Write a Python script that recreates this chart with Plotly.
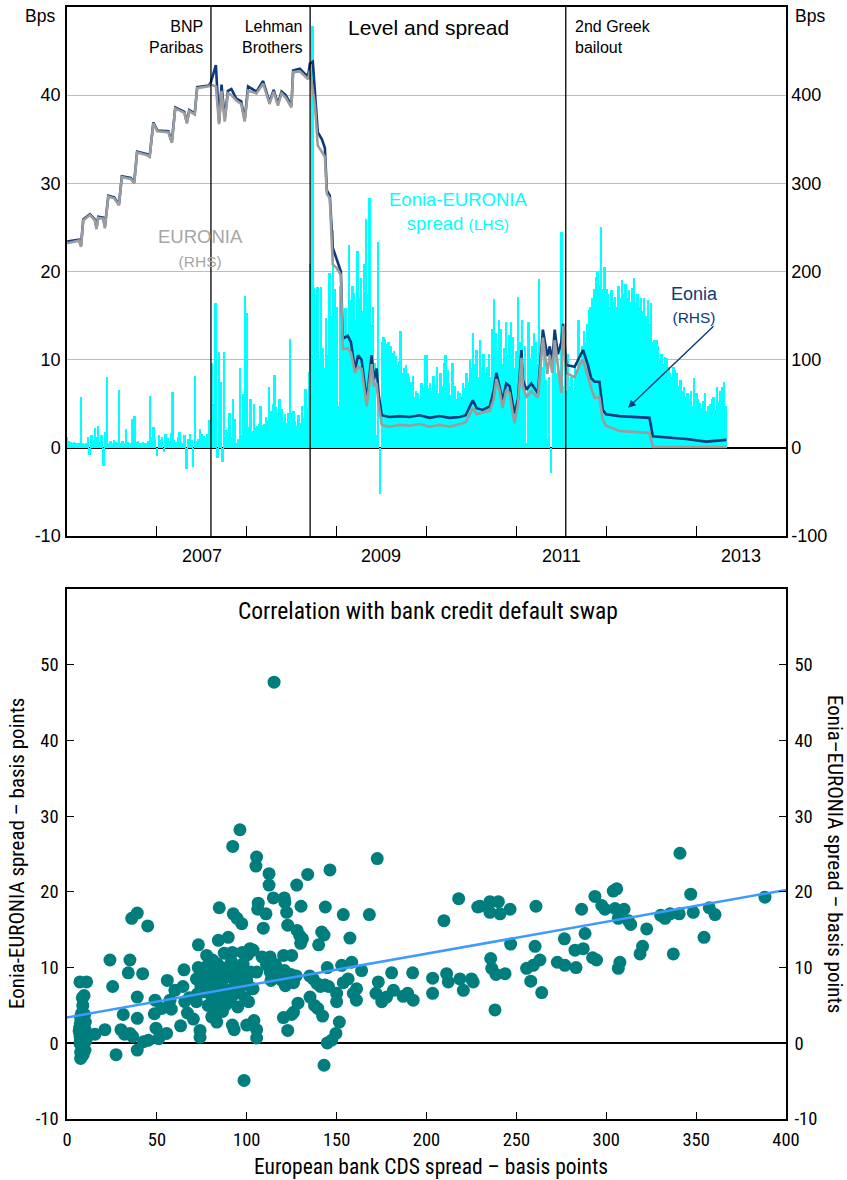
import numpy as np
import pandas as pd
import plotly.graph_objects as go

# ---------------- Top panel: Eonia-EURONIA spread (LHS, weekly bars) ----------------
spread_2006 = [1.2, 0.8, 0.7, 0.6, 0.7, 0.6, 0.5, 0.6, 5.8, 0.5,
               0.4, 0.6, 1.2, -0.8, 1.5, 0.9, 2.2, 1.2, 2.5, 0.7,
               1.4, -2.1, 1.8, 8.0, 0.6, 0.8, 0.5, 0.9, 0.7, 0.6,
               6.6, 0.5, 0.8, 0.6, 2.1, 0.7, 0.5, 0.6, 3.3, 3.6,
               0.7, 0.8, 0.6, 0.5, 0.7, 0.6, 0.5, 0.8, 5.9, 1.2,
               2.4, 1.0]
spread_2007 = [-0.9, 1.4, 0.9, 1.2, -0.5, 1.6, 1.1, 0.8, 1.7, 6.3,
               0.9, 0.7, 1.2, 1.8, 0.8, 0.6, 1.4, -2.4, 1.0, 1.6,
               0.9, -2.2, 8.1, 0.8, 1.0, 2.1, 1.6, 1.3, 1.1, 1.6,
               3.2, 3.0, 9.6, 5.0, 16.4, -1.2, 10.9, 7.5, -1.6, 10.9,
               2.0, 1.8, 3.9, 1.2, 5.5, 3.3, 0.6, 1.0, 9.1, 1.5,
               6.1, 17.2]
spread_2008 = [15.3, 2.4, 5.5, 1.9, 5.0, 2.3, 2.5, 2.7, 4.8, 2.6,
               2.7, 3.5, 3.0, 6.9, 4.2, 5.0, 8.3, 4.6, 3.9, 5.5,
               4.4, 3.0, 3.8, 2.8, 3.9, 12.4, 3.9, 4.2, 3.0, 2.5,
               3.7, 2.8, 4.8, 3.4, 6.7, 4.5, 8.6, 20.9, 47.8, 18.1,
               17.5, 18.2, 10.0, 18.2, 11.3, 9.0, 14.7, 10.5, 19.8, 15.0,
               24.7, 18.0]
spread_2009 = [16.0, 4.7, 18.3, 14.0, 12.7, 15.9, 13.0, 23.0, 16.8, 18.3,
               17.6, 14.5, 22.3, 17.0, 19.3, 15.5, 20.9, 26.0, 17.5, 28.3,
               13.9, 16.0, 9.6, 1.5, 23.3, -5.2, 12.0, 12.6, 12.4, 11.8,
               12.0, 11.5, 10.8, 11.0, 10.4, 9.4, 9.8, 13.2, 8.5, 9.0,
               9.4, 8.5, 8.0, 7.5, 8.1, 5.8, 6.5, 6.2, 5.5, 7.3,
               6.8, 10.5]
spread_2010 = [10.5, 6.8, 7.3, 6.5, 8.1, 7.0, 9.2, 6.2, 8.5, 7.0,
               9.6, 10.5, 8.8, 7.3, 6.0, 9.6, 7.0, 5.5, 6.5, 6.2,
               5.8, 7.3, 6.8, 8.5, 7.5, 10.0, 9.0, 13.0, 9.5, 11.1,
               8.0, 12.2, 9.0, 10.7, 8.5, 9.2, 10.7, 8.0, 13.5, 16.9,
               13.0, 11.0, 14.5, 13.5, 9.5, 11.3, 14.3, 10.5, 12.8, 14.3,
               12.6, 9.0, 11.0]
spread_2011 = [10.0, 17.1, 12.0, 14.5, 9.0, 11.5, 0.5, 14.3, 10.2, 11.5,
               13.0, 12.0, 9.5, 19.2, 8.0, 9.2, 11.0, 7.7, 1.0, 8.0,
               -2.9, 9.5, 11.1, 8.5, 9.0, 7.3, 24.5, 7.0, 10.0, 6.5,
               10.7, 7.0, 8.0, 6.5, 9.5, 8.5, 14.5, 10.0, 11.5, 13.2,
               12.0, 14.0, 15.6, 16.0, 17.0, 18.0, 19.4, 20.1, 18.5, 25.1,
               18.0, 20.5]
spread_2012 = [18.0, 17.4, 16.0, 17.9, 16.5, 17.1, 16.0, 18.4, 17.0, 19.0,
               17.5, 18.6, 17.0, 17.9, 16.5, 18.1, 19.3, 16.5, 17.5, 16.0,
               17.0, 15.5, 17.0, 15.0, 16.8, 14.0, 16.4, 12.0, 12.2, 12.2,
               11.5, 10.0, 10.7, 9.5, 10.3, 10.2, 9.2, 8.5, 8.0, 9.2,
               8.8, 8.5, 7.0, 7.7, 6.5, 6.9, 5.8, 6.2, 5.5, 6.5,
               4.8, 7.9]
spread_2013 = [6.2, 5.5, 5.1, 4.5, 5.3, 6.2, 4.2, 4.7, 5.0, 5.5,
               5.8, 4.3, 6.9, 5.2, 6.5, 6.9, 7.5, 4.7]
spread_by_year = {2006: spread_2006, 2007: spread_2007, 2008: spread_2008,
                  2009: spread_2009, 2010: spread_2010, 2011: spread_2011,
                  2012: spread_2012, 2013: spread_2013}

# ---------------- Top panel: Eonia and EURONIA levels (RHS) ----------------
line_dates = ["2006-01-02", "2006-02-18", "2006-02-27", "2006-03-08", "2006-04-04",
              "2006-04-24", "2006-05-01", "2006-05-08", "2006-05-28", "2006-06-04",
              "2006-06-18", "2006-07-12", "2006-07-31", "2006-08-12", "2006-09-17",
              "2006-10-01", "2006-10-13", "2006-11-23", "2006-12-03", "2006-12-18",
              "2007-01-03", "2007-02-17", "2007-03-03", "2007-03-17", "2007-04-23",
              "2007-05-03", "2007-05-13", "2007-06-04", "2007-06-14", "2007-07-31",
              "2007-08-08", "2007-08-29", "2007-09-11", "2007-09-21", "2007-10-04",
              "2007-10-17", "2007-10-31", "2007-11-20", "2007-12-10", "2007-12-24",
              "2008-01-07", "2008-02-10", "2008-03-08", "2008-03-20", "2008-04-03",
              "2008-04-20", "2008-05-07", "2008-05-22", "2008-06-08", "2008-07-01",
              "2008-07-08", "2008-08-04", "2008-08-25", "2008-09-07", "2008-09-14",
              "2008-09-26", "2008-10-04", "2008-10-16", "2008-11-02", "2008-11-14",
              "2008-11-22", "2008-12-04", "2008-12-16", "2009-01-01", "2009-01-18",
              "2009-01-26", "2009-02-15", "2009-02-28", "2009-03-16", "2009-03-29",
              "2009-04-12", "2009-05-03", "2009-05-23", "2009-06-01", "2009-06-12",
              "2009-06-21", "2009-07-03", "2009-08-04", "2009-09-14", "2009-10-24",
              "2009-12-04", "2010-01-14", "2010-02-23", "2010-04-05", "2010-05-16",
              "2010-06-09", "2010-07-08", "2010-07-24", "2010-08-17", "2010-09-15",
              "2010-10-01", "2010-10-12", "2010-10-25", "2010-11-06", "2010-11-21",
              "2010-12-05", "2010-12-17", "2010-12-25", "2011-01-08", "2011-01-22",
              "2011-01-28", "2011-02-11", "2011-03-03", "2011-03-30", "2011-04-19",
              "2011-05-07", "2011-05-17", "2011-05-27", "2011-06-06", "2011-06-19",
              "2011-07-03", "2011-07-10", "2011-07-23", "2011-08-26", "2011-09-15",
              "2011-09-29", "2011-10-19", "2011-11-01", "2011-11-15", "2011-12-05",
              "2011-12-18", "2012-01-01", "2012-02-24", "2012-05-02", "2012-06-25",
              "2012-07-09", "2012-11-22", "2013-02-11", "2013-05-04"]
eonia = [234, 236, 230, 259, 265, 259, 250, 262, 261, 251,
         286, 284, 276, 308, 306, 301, 336, 333, 331, 369,
         360, 359, 347, 386, 381, 369, 383, 379, 409, 411,
         414, 434, 369, 412, 373, 405, 407, 396, 393, 372,
         410, 404, 416, 405, 392, 406, 390, 404, 400, 388,
         428, 430, 424, 422, 436, 438, 405, 358, 350, 340,
         292, 286, 227, 214, 200, 124, 127, 120, 88, 105,
         100, 54, 105, 78, 90, 60, 37, 35, 36, 35,
         37, 34, 36, 34, 35, 37, 54, 45, 43, 47,
         65, 85, 70, 54, 73, 70, 50, 39, 56, 111,
         77, 66, 73, 62, 134, 104, 115, 96, 134, 106,
         120, 141, 94, 92, 103, 111, 94, 79, 75, 75,
         43, 38, 36, 35, 34, 13, 10, 7, 9]
euronia = [232, 235, 228, 258, 264, 258, 248, 261, 260, 249,
           285, 283, 275, 307, 305, 300, 335, 332, 330, 368,
           359, 358, 346, 385, 380, 368, 382, 378, 408, 410,
           412, 410, 367, 405, 370, 402, 400, 394, 390, 370,
           405, 402, 413, 402, 390, 404, 388, 402, 397, 386,
           426, 427, 421, 418, 428, 405, 390, 343, 336, 330,
           288, 283, 208, 204, 196, 112, 113, 108, 85, 92,
           90, 47, 95, 70, 73, 48, 26, 24, 26, 25,
           27, 24, 26, 24, 27, 29, 45, 38, 40, 42,
           55, 78, 65, 45, 66, 62, 40, 28, 50, 102,
           70, 58, 64, 57, 125, 84, 105, 85, 122, 92,
           62, 138, 85, 80, 94, 100, 80, 68, 57, 57,
           32, 25, 19, 18, 17, 1, 1, 1, 1]

event_dates = ["2007-08-09", "2008-09-15", "2011-07-21"]
event_labels = ["BNP<br>Paribas", "Lehman<br>Brothers", "2nd Greek<br>bailout"]
year_ticks = [f"{y}-01-01" for y in range(2006, 2015)]
year_labels = ["2007", "2009", "2011", "2013"]
left_ticks = [-10, 0, 10, 20, 30, 40]
right_ticks = [-100, 0, 100, 200, 300, 400]

# ---------------- Bottom panel: scatter ----------------
cds_spread = [
    7.2, 10.9, 9.5, 8.5, 8.2, 7.5, 9.0, 8.0, 9.5, 7.0,
    8.5, 10.0, 7.5, 9.0, 8.0, 10.5, 7.2, 9.2, 8.3, 10.0,
    7.6, 9.0, 7.6, 8.5, 11.0, 6.8, 10.2, 9.8, 8.8,
    7.5, 8.0, 8.5, 9.0, 9.5, 10.0, 7.8, 8.2, 8.8, 9.2,
    9.8, 10.3, 7.3, 7.9, 8.6, 9.1, 9.6, 10.1, 8.4, 8.9,
    7.7, 8.1, 8.7, 9.3, 9.9, 10.4, 7.4, 8.3, 9.4, 10.6,
    8.0, 8.6, 9.0, 9.7, 7.6, 8.4, 9.2, 10.2, 8.8, 9.5,
    7.9, 8.5, 9.1, 9.8, 8.2, 9.0,
    15.6, 21.1, 27.3, 31.3, 30.0, 32.0, 35.0, 36.5, 39.1, 39.1,
    39.1, 42.5, 45.3, 49.0, 48.6, 49.5, 51.0, 52.7, 55.4, 57.3,
    23.9, 35.0, 34.1, 42.1, 25.4, 36.0, 39.1, 44.9, 55.8, 58.0,
    60.0,
    63.2, 65.1, 65.5, 67.0, 68.0, 70.3, 72.0, 72.5, 74.0, 74.0,
    73.1, 77.7, 80.5, 83.3, 85.0, 88.0, 84.2, 89.7, 83.6, 87.5,
    92.0, 97.5, 100.5, 92.0, 93.0, 100.0, 98.5, 92.5, 95.5, 97.0,
    84.7, 92.5, 94.6, 97.2, 96.2, 92.2, 64.5,
    72.0, 73.0, 74.5, 75.0, 76.0, 77.0, 78.0, 78.5, 79.0, 80.0,
    80.5, 81.0, 82.0, 82.5, 83.0, 84.0, 85.0, 86.0, 86.5, 87.0,
    88.0, 89.0, 90.0, 91.0, 91.5, 93.0, 94.0, 95.0, 96.0, 98.0,
    99.0, 100.0, 101.0, 102.0, 103.0, 104.0,
    115.2, 105.5, 105.1, 112.4, 112.4, 127.8, 133.9, 146.3, 172.6, 114.8,
    120.9, 121.2, 106.4, 106.1, 110.7, 122.2, 130.2, 143.7, 153.7, 168.2,
    109.2, 122.8, 128.0, 129.5, 131.0, 130.0, 141.7, 143.0, 140.0, 157.4,
    101.8, 103.5, 108.5, 113.0, 120.5, 125.0, 111.0, 116.0, 105.5, 113.0,
    116.5, 121.0, 124.5, 127.5, 113.5, 119.5, 121.5, 126.0, 135.0, 137.0,
    139.0, 141.0, 143.5, 145.5, 144.8, 152.8, 158.4, 163.9, 153.7, 156.4,
    161.1, 159.3, 161.0, 150.0, 150.0, 135.2, 137.7, 139.5, 142.2, 126.0,
    128.5, 125.0, 120.4, 122.8, 151.5, 149.6, 147.2, 144.8, 143.0, 105.5,
    105.5, 103.5, 173.2, 171.9, 175.1, 177.8, 181.6, 180.6, 192.3, 187.0,
    189.5, 192.6, 203.4, 203.4, 211.2, 212.1, 218.6, 220.5, 225.0, 209.7,
    217.9, 228.5,
    229.8, 235.3, 235.3, 240.0, 240.9, 246.5, 260.9, 286.3, 293.7, 303.9,
    305.8, 341.0, 347.0, 388.3, 297.5, 299.3, 304.9, 309.9, 306.7, 312.3,
    313.6, 322.5, 330.3, 332.7, 335.5, 340.6, 348.4, 357.3, 360.5, 354.4,
    246.8, 260.4, 276.7, 288.2, 282.6, 287.2, 320.2, 318.8, 337.3, 235.7,
    236.3, 238.7, 243.7, 226.0, 255.7, 259.4, 263.1, 258.0, 264.1, 238.1,
    272.8, 277.0, 283.2, 292.4, 294.6, 306.7, 307.6]
eonia_euronia_spread = [
    8.1, 8.1, 6.3, 6.0, 4.0, 3.5, 3.0, 2.5, 2.2, 2.0,
    1.5, 1.2, 1.0, 0.8, 0.5, 0.3, 0.0, -0.3, -0.6, -0.9,
    -1.2, -1.5, -2.0, -1.6, 0.8, 1.6, 2.8, 3.8, 5.0,
    0.6, 0.9, 1.1, 0.4, 0.7, 1.3, 1.6, 0.8, 0.5, 1.0,
    1.4, 0.6, 0.9, 1.2, 0.3, 0.7, 1.8, 0.9, 2.3, 1.5,
    0.4, 1.1, 0.6, 1.9, 0.8, 1.2, 2.6, 0.5, 1.3, 0.7,
    1.0, 2.0, 0.6, 1.1, 0.8, 1.4, 0.9, 1.7, 0.2, 1.0,
    3.1, 0.7, 1.3, 0.5, 1.6, 2.8,
    1.2, 1.8, -1.5, 3.8, 1.8, 1.2, 1.3, 0.9, -0.9, 6.1,
    3.3, 0.2, 0.4, 5.7, 3.9, 2.0, 0.6, 4.6, 1.3, 5.7,
    11.0, 11.0, 9.3, 9.2, 7.5, 16.5, 17.2, 15.5, 8.3, 4.5,
    7.0,
    2.3, 9.7, 5.5, 4.0, 6.0, 3.2, 5.5, 6.5, 1.7, 0.8,
    13.0, 11.6, 3.5, 2.8, 5.5, 5.0, 13.6, 14.0, 10.5, 11.9,
    12.0, 12.0, 11.7, 2.4, 1.8, 2.4, -4.9, 8.5, 8.0, 9.0,
    17.9, 17.1, 16.5, 15.8, 28.2, 26.0, 7.5,
    8.5, 10.0, 7.5, 9.2, 6.8, 8.0, 10.2, 5.0, 7.2, 9.0,
    6.2, 11.0, 4.5, 8.2, 6.8, 9.5, 7.5, 10.0, 4.2, 8.5,
    6.2, 9.8, 7.0, 5.5, 10.8, 6.5, 9.5, 4.8, 7.2, 10.5,
    6.0, 8.2, 5.5, 9.4, 7.2, 3.0,
    47.7, 24.6, 23.4, 22.4, 20.9, 20.9, 22.3, 22.9, 24.4, 19.2,
    19.2, 18.6, 18.5, 17.7, 17.1, 17.3, 18.1, 18.0, 17.0, 17.0,
    15.2, 15.6, 14.9, 14.2, 13.8, 13.2, 14.7, 14.3, 13.0, 13.9,
    12.5, 12.3, 11.4, 11.4, 11.6, 11.6, 10.4, 10.4, 9.4, 9.4,
    9.3, 9.6, 9.1, 8.9, 8.3, 8.3, 7.6, 8.0, 8.9, 8.5,
    7.9, 7.5, 7.7, 7.5, 10.0, 10.3, 10.7, 9.6, 8.0, 8.5,
    7.2, 6.6, 5.7, 6.6, 5.5, 6.1, 5.0, 4.6, 3.6, 4.1,
    5.3, 3.8, 3.4, 1.7, 2.8, 1.3, 0.4, 0.05, -2.9, 1.8,
    0.7, 7.2, 8.1, 6.6, 5.5, 6.1, 7.0, 9.3, 9.3, 6.2,
    6.6, 5.7, 8.6, 6.6, 9.2, 8.1, 8.5, 7.0, 8.5, 16.2,
    19.1, 18.0,
    18.1, 18.7, 17.3, 18.7, 17.1, 17.7, 18.1, 17.7, 19.4, 20.1,
    20.4, 25.1, 19.7, 19.3, 18.2, 17.7, 17.8, 17.7, 16.5, 16.2,
    15.7, 15.1, 16.9, 16.5, 17.1, 17.1, 17.3, 17.9, 17.0, 14.0,
    13.1, 12.8, 13.8, 14.5, 12.3, 12.5, 12.8, 11.8, 11.8, 11.2,
    9.9, 9.1, 9.2, 8.1, 9.9, 10.3, 11.0, 8.2, 6.7, 4.4,
    10.7, 10.3, 10.0, 11.3, 11.0, 9.9, 10.7]
scatter_ticks = [-10, 0, 10, 20, 30, 40, 50]
scatter_xticks = [0, 50, 100, 150, 200, 250, 300, 350, 400]

# ---------------- Styling ----------------
CYAN = "#00FFFF"
NAVY = "#0B3B7C"
GREY = "#9C9C9C"
TEAL = "#007D7D"
FIT = "#3D9BFF"
F = "Liberation Sans, Arial, sans-serif"
FN = "Liberation Sans Narrow, Arial Narrow, Roboto Condensed, Liberation Sans, sans-serif"

W, H = 847, 1180
ML, MR, MT, MB = 67, 61, 7, 61
PH = H - MT - MB
top_dom = [(1119 - 536) / PH, 1.0]
bot_dom = [0.0, (1119 - 589) / PH]


def labels(vals):
    return [str(v).replace("\u2212", "-") for v in vals]


fig = go.Figure()

# spread bars
bar_x, bar_y = [], []
for yr, vals in spread_by_year.items():
    d = pd.date_range(f"{yr}-01-03", periods=len(vals), freq="7D")
    bar_x.extend(d)
    bar_y.extend(vals)
fig.add_trace(go.Bar(x=bar_x, y=bar_y, width=7.8 * 86400000,
                     marker=dict(color=CYAN, line=dict(width=0)),
                     xaxis="x", yaxis="y", hoverinfo="skip"))

# level lines (RHS)
fig.add_trace(go.Scatter(x=pd.to_datetime(line_dates), y=eonia, mode="lines",
                         line=dict(color=NAVY, width=2.6), xaxis="x", yaxis="y2"))
fig.add_trace(go.Scatter(x=pd.to_datetime(line_dates), y=euronia, mode="lines",
                         line=dict(color=GREY, width=2.6), xaxis="x", yaxis="y2"))

# scatter
fig.add_trace(go.Scatter(x=cds_spread, y=eonia_euronia_spread, mode="markers",
                         marker=dict(color=TEAL, size=13, line=dict(width=0)),
                         xaxis="x2", yaxis="y3"))
coef = np.polyfit(np.array(cds_spread), np.array(eonia_euronia_spread), 1)
fx = np.array([0.0, 400.0])
fig.add_trace(go.Scatter(x=fx, y=np.polyval(coef, fx), mode="lines",
                         line=dict(color=FIT, width=2.5), xaxis="x2", yaxis="y3"))
# invisible trace to hold the right-hand scatter axis
fig.add_trace(go.Scatter(x=[0], y=[0], mode="markers", marker=dict(opacity=0),
                         xaxis="x2", yaxis="y4", hoverinfo="skip"))

axis_line = dict(showline=True, linecolor="black", linewidth=1.5)

fig.update_layout(
    width=W, height=H, margin=dict(l=ML, r=MR, t=MT, b=MB, autoexpand=False),
    paper_bgcolor="white", plot_bgcolor="white", showlegend=False, bargap=0,
    font=dict(family=F, size=18, color="black"),
    xaxis=dict(domain=[0, 1], anchor="y", type="date",
               range=["2006-01-01", "2014-01-01"], tickvals=year_ticks,
               showticklabels=False, ticks="inside", ticklen=10, tickwidth=1.3,
               tickcolor="black", showgrid=False, zeroline=False, mirror=True,
               **axis_line),
    yaxis=dict(domain=top_dom, anchor="x", range=[-10, 50], tickvals=left_ticks,
               ticktext=labels(left_ticks),
               showgrid=True, gridcolor="#BDBDBD", gridwidth=1,
               zeroline=True, zerolinecolor="black", zerolinewidth=1.5,
               ticks="", ticklabelstandoff=1, tickfont=dict(family=F, size=18),
               layer="above traces", **axis_line),
    yaxis2=dict(overlaying="y", side="right", anchor="x", range=[-100, 500],
                tickvals=right_ticks, ticktext=labels(right_ticks),
                showgrid=False, zeroline=False, ticks="",
                ticklabelstandoff=0, tickfont=dict(family=F, size=18), **axis_line),
    xaxis2=dict(domain=[0, 1], anchor="y3", range=[0, 400], tickvals=scatter_xticks,
                ticktext=labels(scatter_xticks),
                ticks="inside", ticklen=7, tickwidth=1.3, tickcolor="black",
                showgrid=False, zeroline=False, mirror=True,
                tickfont=dict(family=FN, size=18.5), ticklabelstandoff=3, **axis_line),
    yaxis3=dict(domain=bot_dom, anchor="x2", range=[-10, 60], tickvals=scatter_ticks,
                ticktext=labels(scatter_ticks),
                ticks="inside", ticklen=7, tickwidth=1.3, tickcolor="black",
                showgrid=False, zeroline=True, zerolinecolor="black", zerolinewidth=1.5,
                tickfont=dict(family=FN, size=18.5), ticklabelstandoff=3, **axis_line),
    yaxis4=dict(overlaying="y3", side="right", anchor="x2", range=[-10, 60],
                tickvals=scatter_ticks, ticktext=labels(scatter_ticks),
                ticks="inside", ticklen=7, tickwidth=1.3,
                tickcolor="black", showgrid=False, zeroline=False,
                tickfont=dict(family=FN, size=18.5), ticklabelstandoff=3, **axis_line),
)

# event lines and labels
shapes = []
annotations = []
for i, (d, lab) in enumerate(zip(event_dates, event_labels)):
    shapes.append(dict(type="line", xref="x", yref="y domain", x0=d, x1=d, y0=0, y1=1,
                       line=dict(color="black", width=1.3)))
    right_side = i == 2
    annotations.append(dict(xref="x", yref="y domain", x=d, y=1, yshift=-9,
                            xanchor="left" if right_side else "right", yanchor="top",
                            xshift=7 if right_side else -6,
                            align="left" if right_side else "right",
                            text=lab, showarrow=False, font=dict(family=F, size=16)))
fig.update_layout(shapes=shapes)


def px(xpix):
    return (xpix - ML) / (W - ML - MR)


# year labels
for y in year_labels:
    annotations.append(dict(xref="x", yref="y", x=f"{y}-07-02", y=-10, yanchor="top",
                            yshift=-8, text=y, showarrow=False, font=dict(family=F, size=18)))

annotations += [
    dict(xref="paper", yref="y domain", x=px(428), y=1, yanchor="middle", yshift=-20,
         text="Level and spread", showarrow=False, font=dict(family=F, size=21)),
    dict(xref="paper", yref="y domain", x=px(40), xanchor="center", y=1,
         yanchor="middle", yshift=-9,
         text="Bps", showarrow=False, font=dict(family=F, size=17.5)),
    dict(xref="paper", yref="y domain", x=px(810), xanchor="center", y=1,
         yanchor="middle", yshift=-9,
         text="Bps", showarrow=False, font=dict(family=F, size=17.5)),
    dict(xref="paper", yref="y", x=px(156), y=(448 - 248) / 8.82,
         text='EURONIA<br><span style="font-size:15.5px">(RHS)</span>',
         showarrow=False, font=dict(family=F, size=18.5, color="#A6A6A6")),
    dict(xref="paper", yref="y", x=px(458), y=(448 - 212) / 8.82,
         text='Eonia-EURONIA<br>spread <span style="font-size:15.5px">(LHS)</span>',
         showarrow=False, font=dict(family=F, size=18.5, color=CYAN)),
    dict(xref="paper", yref="y", x=px(720), y=(448 - 305) / 8.82,
         text='Eonia<br><span style="font-size:15.5px">(RHS)</span>',
         showarrow=False, font=dict(family=F, size=18, color=NAVY)),
    dict(xref="paper", yref="y", x=px(628), y=(448 - 408) / 8.82, ax=87, ay=-83,
         text="", showarrow=True, arrowhead=2, arrowsize=1.1, arrowwidth=1.4,
         arrowcolor=NAVY),
    # scatter texts
    dict(xref="paper", yref="y3 domain", x=px(428), y=1, yanchor="middle", yshift=-22,
         text="Correlation with bank credit default swap", showarrow=False,
         font=dict(family=FN, size=23.5)),
    dict(xref="paper", yref="y3 domain", x=px(17), xanchor="center", y=0.5,
         yanchor="middle", textangle=-90,
         text="Eonia-EURONIA spread \u2013 basis points", showarrow=False,
         font=dict(family=FN, size=21)),
    dict(xref="paper", yref="y3 domain", x=px(835), xanchor="center", y=0.5,
         yanchor="middle", textangle=90,
         text="Eonia\u2013EURONIA spread \u2013 basis points", showarrow=False,
         font=dict(family=FN, size=21)),
    dict(xref="paper", yref="paper", x=px(431), xanchor="center",
         y=(1119 - 1166) / PH, yanchor="middle",
         text="European bank CDS spread \u2013 basis points", showarrow=False,
         font=dict(family=FN, size=21.5)),
]
fig.update_layout(annotations=annotations)

fig.write_html("out.html", config={"displayModeBar": False},
               post_script="document.body.style.margin='0px';")
